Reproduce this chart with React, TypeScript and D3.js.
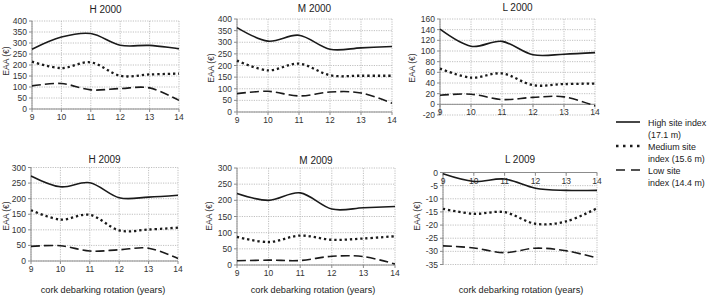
import React from "react";
import * as d3 from "d3";

const years = [9, 10, 11, 12, 13, 14];

const h2000High = [272, 327, 343, 290, 289, 274];
const h2000Med = [215, 186, 212, 151, 157, 161];
const h2000Low = [105, 116, 87, 93, 96, 39];

const m2000High = [363, 305, 330, 270, 276, 282];
const m2000Med = [221, 179, 208, 158, 156, 156];
const m2000Low = [79, 89, 69, 86, 82, 38];

const l2000High = [141, 109, 118, 93, 94, 97];
const l2000Med = [67, 50, 58, 36, 38, 39];
const l2000Low = [17, 19, 9, 13, 14, -3];

const h2009High = [273, 238, 251, 203, 205, 211];
const h2009Med = [163, 133, 148, 98, 101, 107];
const h2009Low = [47, 49, 32, 36, 41, 8];

const m2009High = [221, 200, 223, 173, 177, 181];
const m2009Med = [87, 71, 91, 78, 82, 89];
const m2009Low = [13, 15, 14, 27, 26, 3];

const l2009High = [-0.5, -3.4, -2.5, -6, -6.8, -6.8];
const l2009Med = [-13.8, -15.7, -15.1, -19.5, -18.6, -13.6];
const l2009Low = [-27.9, -28.7, -30.5, -28.8, -29.8, -32.5];

const titles = ["H 2000", "M 2000", "L 2000", "H 2009", "M 2009", "L 2009"];
const yDomains = [[0, 400], [0, 400], [-20, 160], [0, 300], [0, 300], [-35, 0]];
const yTickSteps = [50, 50, 20, 50, 50, 5];
const seriesNames = ["High site index|(17.1 m)", "Medium site|index (15.6 m)", "Low site|index (14.4 m)"];
const yAxisLabel = "EAA (€)";
const xAxisLabel = "cork debarking rotation (years)";

const seriesByPanel = [
  [h2000High, h2000Med, h2000Low],
  [m2000High, m2000Med, m2000Low],
  [l2000High, l2000Med, l2000Low],
  [h2009High, h2009Med, h2009Low],
  [m2009High, m2009Med, m2009Low],
  [l2009High, l2009Med, l2009Low],
];

// layout (pixels)
const layout = [
  { x0: 32, x1: 179, yTop: 21, yBot: 109, titleY: 13, labX: 6, labY: 61 },
  { x0: 237, x1: 392, yTop: 19, yBot: 112, titleY: 12, labX: 211, labY: 68 },
  { x0: 440, x1: 595, yTop: 19, yBot: 115, titleY: 11, labX: 412, labY: 68 },
  { x0: 31, x1: 178, yTop: 167.5, yBot: 261, titleY: 162.5, labX: 6, labY: 216 },
  { x0: 237, x1: 395, yTop: 168, yBot: 265, titleY: 163.5, labX: 209, labY: 216 },
  { x0: 443, x1: 597, yTop: 172.5, yBot: 264.5, titleY: 162.5, labX: 417, labY: 216 },
];
const xLabelCenters = [103, 313, 521];

const styles = [
  { width: 1.6, dash: "none", cap: "butt" },
  { width: 2.3, dash: "2.3,2.9", cap: "butt" },
  { width: 1.6, dash: "9,4", cap: "butt" },
];
const legendDash = ["none", "2.5,4.5", "9,6"];

const FONT = "'Liberation Sans', Arial, sans-serif";
const INK = "#1a1a1a";

function Panel({ i }: { i: number }) {
  const L = layout[i];
  const dom = yDomains[i];
  const x = d3.scaleLinear().domain([9, 14]).range([L.x0, L.x1]);
  const y = d3.scaleLinear().domain(dom).range([L.yBot, L.yTop]);
  const yTicks = d3.range(dom[0], dom[1] + 0.001, yTickSteps[i]);
  const zeroY = y(0);
  const line = d3
    .line<number>()
    .x((_, k) => x(years[k]))
    .y((v) => y(v))
    .curve(d3.curveCardinal.tension(0));
  return (
    <g>
      {yTicks.map((t) => (
        <line key={"gy" + t} x1={L.x0} x2={L.x1} y1={y(t)} y2={y(t)} stroke="#b0b0b0" strokeWidth={0.8} strokeDasharray="1.2,1.2" />
      ))}
      {years.map((t) => (
        <line key={"gx" + t} x1={x(t)} x2={x(t)} y1={L.yTop} y2={L.yBot} stroke="#b0b0b0" strokeWidth={0.8} strokeDasharray="1.2,1.2" />
      ))}
      <line x1={L.x0} x2={L.x0} y1={L.yTop} y2={L.yBot} stroke="#8c8c8c" strokeWidth={1} />
      <line x1={L.x0} x2={L.x1} y1={zeroY} y2={zeroY} stroke="#8c8c8c" strokeWidth={1} />
      {yTicks.map((t) => (
        <g key={"ty" + t}>
          <line x1={L.x0 - 3} x2={L.x0} y1={y(t)} y2={y(t)} stroke="#8c8c8c" strokeWidth={1} />
          <text x={L.x0 - 5} y={y(t) + 3} textAnchor="end" fontSize={8.5} fontFamily={FONT} fill="#333">
            {t}
          </text>
        </g>
      ))}
      {years.map((t) => (
        <g key={"tx" + t}>
          <line x1={x(t)} x2={x(t)} y1={zeroY} y2={zeroY + 3} stroke="#8c8c8c" strokeWidth={1} />
          <text x={x(t)} y={zeroY + 11} textAnchor="middle" fontSize={8.5} fontFamily={FONT} fill="#333">
            {t}
          </text>
        </g>
      ))}
      {seriesByPanel[i].map((s, k) => (
        <path
          key={"s" + k}
          d={line(s) || ""}
          fill="none"
          stroke={INK}
          strokeWidth={styles[k].width}
          strokeDasharray={styles[k].dash}
          strokeLinecap={styles[k].cap as any}
        />
      ))}
      <text x={(L.x0 + L.x1) / 2} y={L.titleY} textAnchor="middle" fontSize={10} fontFamily={FONT} fill="#222">
        {titles[i]}
      </text>
      <text
        transform={`translate(${L.labX},${L.labY}) rotate(-90)`}
        textAnchor="middle"
        fontSize={8.5}
        fontFamily={FONT}
        fill="#333"
        dy={3}
      >
        {yAxisLabel}
      </text>
    </g>
  );
}

export default function App() {
  const legendY = [122, 146, 170];
  return (
    <svg width={708} height={296} style={{ position: "absolute", left: 0, top: 0, background: "#fff" }}>
      <rect width={708} height={296} fill="#fff" />
      {titles.map((_, i) => (
        <Panel key={i} i={i} />
      ))}
      {xLabelCenters.map((cx, k) => (
        <text key={"xl" + k} x={cx} y={293} textAnchor="middle" fontSize={9.2} fontFamily={FONT} fill="#222">
          {xAxisLabel}
        </text>
      ))}
      {seriesNames.map((n, k) => (
        <g key={"lg" + k}>
          <line
            x1={616}
            x2={640}
            y1={legendY[k]}
            y2={legendY[k]}
            stroke={INK}
            strokeWidth={styles[k].width}
            strokeDasharray={legendDash[k]}
          />
          {n.split("|").map((p, j) => (
            <text key={j} x={648} y={legendY[k] + 3.5 + j * 12} fontSize={8.9} fontFamily={FONT} fill="#222">
              {p}
            </text>
          ))}
        </g>
      ))}
    </svg>
  );
}
